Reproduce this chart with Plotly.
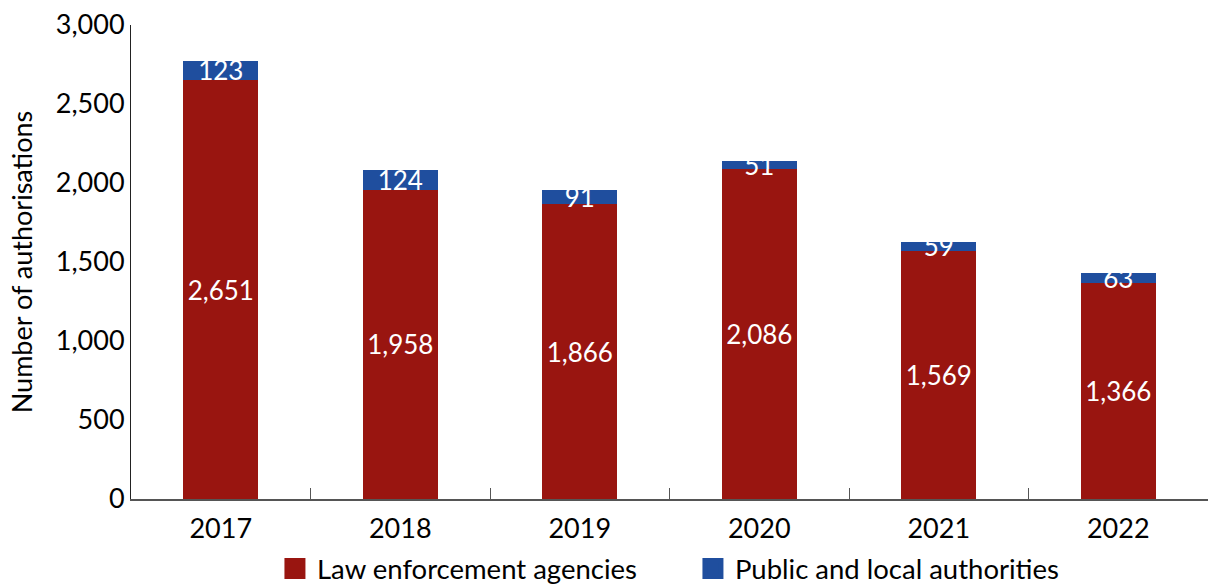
import plotly.graph_objects as go

years = ["2017", "2018", "2019", "2020", "2021", "2022"]
law_enforcement = [2651, 1958, 1866, 2086, 1569, 1366]
public_local = [123, 124, 91, 51, 59, 63]

RED = "#991510"
BLUE = "#1F4E9E"
FONT = "Lato"

fig = go.Figure()
fig.add_trace(go.Bar(
    x=years, y=law_enforcement, name="Law enforcement agencies",
    marker=dict(color=RED, line=dict(width=0)),
    text=[f"{v:,}" for v in law_enforcement],
    textposition="inside", insidetextanchor="middle", constraintext="none",
    textangle=0,
    textfont=dict(color="white", size=26, family=FONT),
    width=0.42, showlegend=False,
))
fig.add_trace(go.Bar(
    x=years, y=public_local, name="Public and local authorities",
    marker=dict(color=BLUE, line=dict(width=0)),
    text=[f"{v:,}" for v in public_local],
    textposition="inside", insidetextanchor="middle", constraintext="none",
    textangle=0,
    textfont=dict(color="white", size=26, family=FONT),
    width=0.42, showlegend=False,
))

# Legend entries with larger square swatches
for name, color in [("Law enforcement agencies", RED), ("Public and local authorities", BLUE)]:
    fig.add_trace(go.Scatter(
        x=[None], y=[None], mode="markers", name=name,
        marker=dict(symbol="square", size=16, color=color, line=dict(color=color, width=7)),
        showlegend=True,
    ))

fig.update_layout(
    barmode="stack",
    width=1208, height=587,
    margin=dict(l=131, r=0, t=25, b=88, autoexpand=False),
    plot_bgcolor="white", paper_bgcolor="white",
    font=dict(family=FONT, size=27, color="black"),
    legend=dict(
        orientation="h", x=0.1318, xanchor="left", y=-0.147, yanchor="middle",
        font=dict(size=27.5, family=FONT), traceorder="normal",
        itemwidth=34, borderwidth=0, tracegroupgap=0,
        entrywidth=369, entrywidthmode="pixels",
    ),
    xaxis=dict(
        showline=True, linecolor="#555555", linewidth=2,
        ticks="inside", tickson="boundaries", ticklen=11, tickcolor="#555555",
        tickfont=dict(size=27, family=FONT), automargin=False,
        ticklabelstandoff=5,
    ),
    yaxis=dict(
        range=[0, 3000], dtick=500, tickformat=",",
        showgrid=False, zeroline=False,
        showline=True, linecolor="#222222", linewidth=1,
        ticks="", tickfont=dict(size=27, family=FONT),
        title=dict(text="Number of authorisations", font=dict(size=27, family=FONT), standoff=15),
        automargin=False,
    ),
)

fig.write_html("out.html")
